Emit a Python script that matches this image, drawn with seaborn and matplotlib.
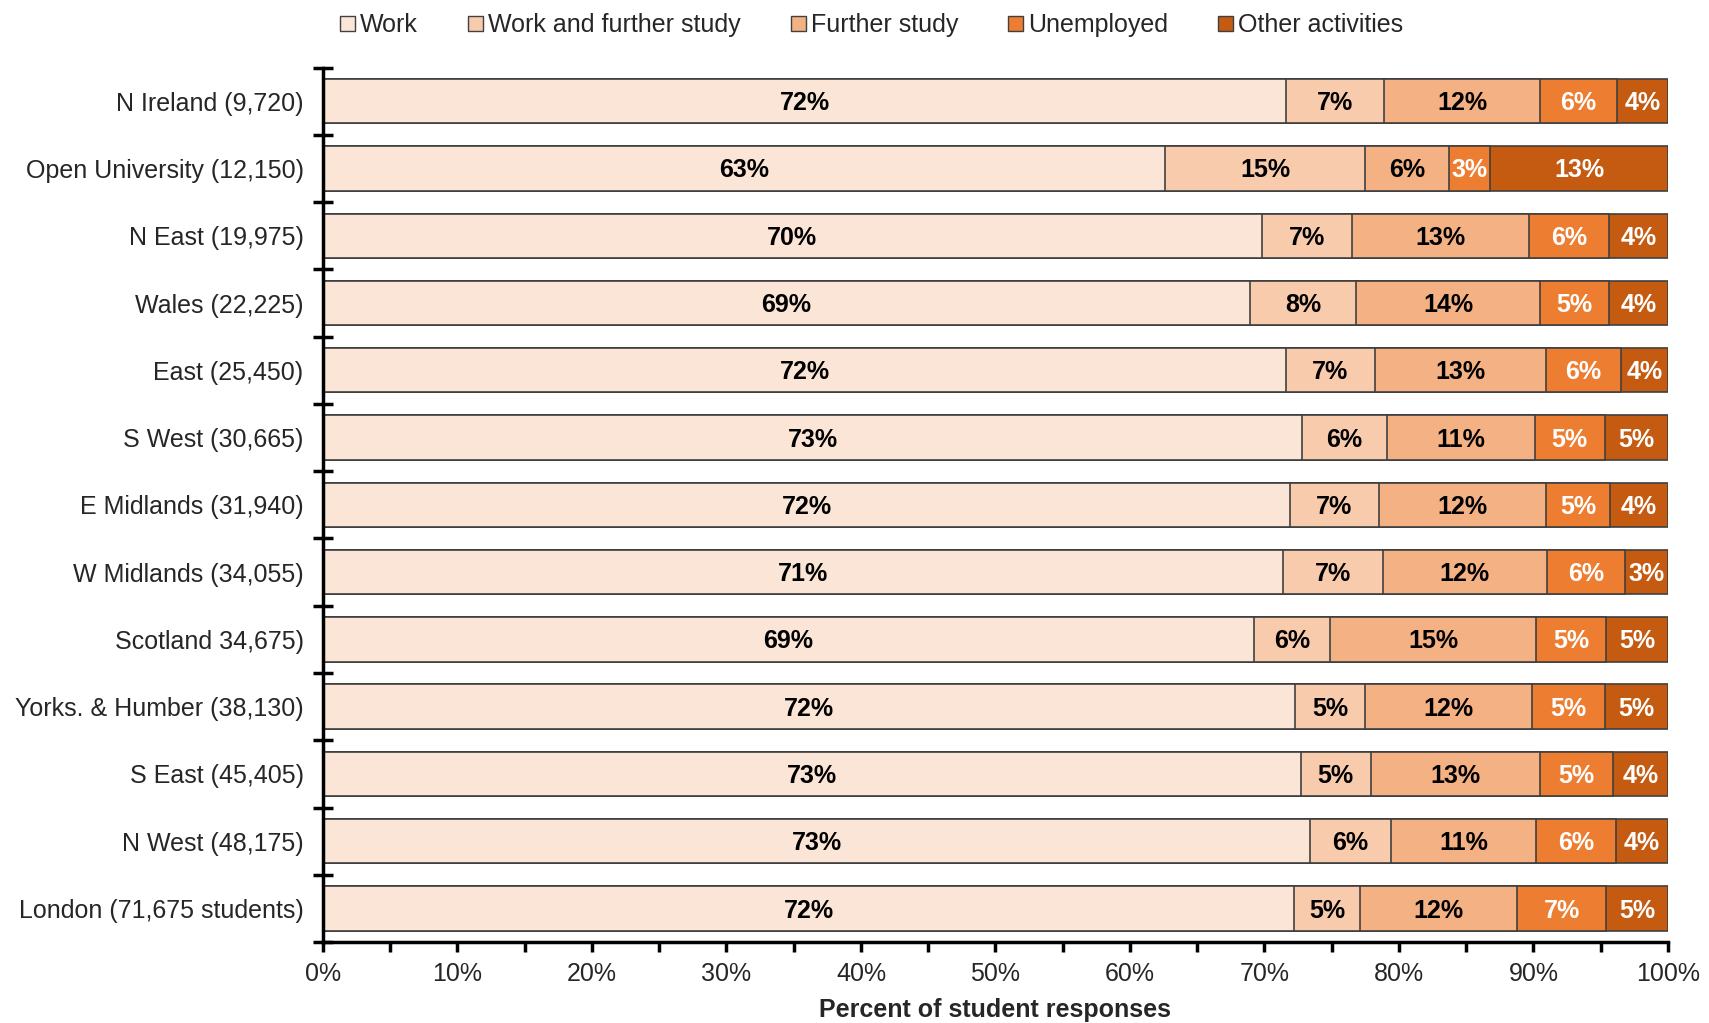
import matplotlib
matplotlib.use("Agg")
import matplotlib.pyplot as plt
from matplotlib.patches import Patch
from matplotlib.ticker import MultipleLocator, FuncFormatter
import seaborn as sns
import pandas as pd
import numpy as np

regions = [
    "N Ireland (9,720)", "Open University (12,150)", "N East (19,975)",
    "Wales (22,225)", "East (25,450)", "S West (30,665)", "E Midlands (31,940)",
    "W Midlands (34,055)", "Scotland 34,675)", "Yorks. & Humber (38,130)",
    "S East (45,405)", "N West (48,175)", "London (71,675 students)",
]
series = ["Work", "Work and further study", "Further study", "Unemployed", "Other activities"]

work = [71.6, 62.6, 69.8, 68.9, 71.6, 72.8, 71.9, 71.4, 69.2, 72.3, 72.7, 73.4, 72.2]
work_study = [7.3, 14.9, 6.7, 7.9, 6.6, 6.3, 6.6, 7.4, 5.7, 5.2, 5.2, 6.0, 4.9]
further_study = [11.6, 6.2, 13.2, 13.7, 12.7, 11.0, 12.4, 12.2, 15.3, 12.4, 12.6, 10.8, 11.7]
unemployed = [5.7, 3.1, 5.9, 5.1, 5.6, 5.2, 4.8, 5.8, 5.2, 5.4, 5.4, 5.9, 6.6]
other = [3.8, 13.2, 4.4, 4.4, 3.5, 4.7, 4.3, 3.2, 4.6, 4.7, 4.1, 3.9, 4.6]

colors = ["#FBE5D6", "#F8CBAD", "#F4B183", "#ED7D31", "#C55A11"]
text_colors = ["black", "black", "black", "white", "white"]

df = pd.DataFrame({"region": regions, "Work": work, "Work and further study": work_study,
                   "Further study": further_study, "Unemployed": unemployed,
                   "Other activities": other})
cum = df[series].cumsum(axis=1)

sns.set_style("white")
plt.rcParams["font.family"] = ["Liberation Sans", "DejaVu Sans"]

fig, ax = plt.subplots(figsize=(17.09, 10.23), dpi=100)
fig.subplots_adjust(left=0.189, right=0.976, top=0.934, bottom=0.079)

# stacked bars: draw cumulative totals from the outermost inward
for i in range(len(series) - 1, -1, -1):
    sns.barplot(x=cum[series[i]] / 100, y=df["region"], color=colors[i], orient="h",
                edgecolor="#404040", linewidth=1.2, width=0.66, saturation=1,
                order=regions, ax=ax)

for i, s in enumerate(series):
    for j in range(len(regions)):
        v = df[s][j]
        mid = (cum[s][j] - v / 2) / 100
        ax.text(mid, j + 0.03, f"{v:.0f}%", ha="center", va="center", fontsize=18,
                fontweight="bold", color=text_colors[i])

ax.set_xlim(0, 1)
ax.set_ylim(len(regions) - 0.5, -0.5)
ax.xaxis.set_major_locator(MultipleLocator(0.1))
ax.xaxis.set_minor_locator(MultipleLocator(0.05))
ax.xaxis.set_major_formatter(FuncFormatter(lambda x, p: f"{x * 100:.0f}%"))
ax.tick_params(axis="x", which="both", direction="out", length=7, width=2.5,
               color="black", labelsize=18, pad=7, bottom=True)

ax.set_yticks(np.arange(len(regions)))
ax.set_yticks(np.arange(-0.5, len(regions), 1), minor=True)
ax.tick_params(axis="y", which="major", length=0, labelsize=18, pad=14)
ax.tick_params(axis="y", which="minor", direction="inout", length=14, width=2.5,
               color="black", left=True)

for side in ["top", "right"]:
    ax.spines[side].set_visible(False)
for side in ["left", "bottom"]:
    ax.spines[side].set_linewidth(2.5)
    ax.spines[side].set_color("black")

ax.set_ylabel("")
ax.set_xlabel("Percent of student responses", fontsize=18, fontweight="bold", labelpad=9)

handles = [Patch(facecolor=c, edgecolor="#404040", linewidth=1, label=s)
           for s, c in zip(series, colors)]
fig.legend(handles=handles, loc="upper center", bbox_to_anchor=(0.51, 1.009), ncol=5,
           frameon=False, fontsize=18, handlelength=0.6, handleheight=0.6,
           handletextpad=0.2, columnspacing=2.0)

fig.savefig("out.png", dpi=100)
